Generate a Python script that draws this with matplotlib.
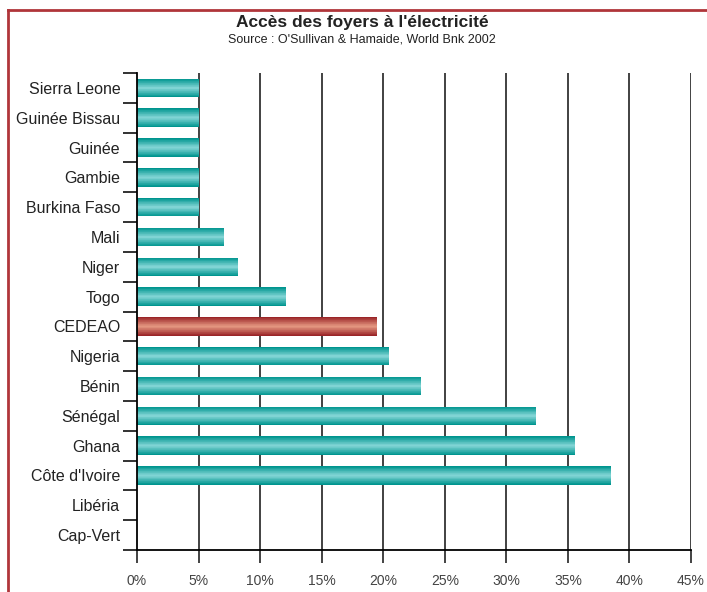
import matplotlib
matplotlib.use("Agg")
import matplotlib.pyplot as plt
import numpy as np
from matplotlib.lines import Line2D
from matplotlib.colors import to_rgb

plt.rcParams['font.family'] = ['Liberation Sans', 'DejaVu Sans']

countries = ["Sierra Leone", "Guinée Bissau", "Guinée", "Gambie", "Burkina Faso",
             "Mali", "Niger", "Togo", "CEDEAO", "Nigeria", "Bénin", "Sénégal",
             "Ghana", "Côte d'Ivoire", "Libéria", "Cap-Vert"]
values = [5.0, 5.0, 5.0, 5.0, 5.0, 7.1, 8.2, 12.1, 19.5, 20.5, 23.1, 32.4,
          35.6, 38.5, 0.0, 0.0]
highlight = "CEDEAO"
xticks = [0, 5, 10, 15, 20, 25, 30, 35, 40, 45]

fig = plt.figure(figsize=(7.07, 5.92), dpi=100)
ax = fig.add_axes([137/707, 1-550/592, (691-137)/707, (550-73)/592])

y = np.arange(len(countries))
teal_edge, teal_mid = to_rgb("#00958f"), to_rgb("#80d4d4")
red_edge, red_mid = to_rgb("#9a2528"), to_rgb("#e3957f")
H = 0.62
n = 14
for k in range(n):
    t = k / (n - 1)
    h = H * (1 - t * 0.92)
    for i, (c, v) in enumerate(zip(countries, values)):
        e, m = (red_edge, red_mid) if c == highlight else (teal_edge, teal_mid)
        col = tuple(e[j] + (m[j] - e[j]) * t for j in range(3))
        ax.barh(i, v, height=h, color=col, zorder=3, linewidth=0)

ax.set_ylim(len(countries) - 0.5, -0.5)
ax.set_xlim(0, 45)
ax.set_yticks(np.arange(-0.5, len(countries) + 0.5, 1))
ax.set_yticklabels([])
ax.set_yticks(y, minor=True)
ax.set_yticklabels(countries, minor=True, fontsize=11.5, color="#222222")
ax.tick_params(axis='y', which='minor', length=0, pad=12)
ax.tick_params(axis='y', which='major', length=10, width=1.3, color="#222222")
ax.set_xticks(xticks)
ax.set_xticklabels([f"{x}%" for x in xticks], fontsize=10, color="#444444")
ax.tick_params(axis='x', length=9.5, width=1.2, pad=7.5, color="#222222")
for x in xticks[1:]:
    ax.axvline(x, color="#333333", lw=1.3, zorder=1)
for s in ["top", "right"]:
    ax.spines[s].set_visible(False)
ax.spines["left"].set_linewidth(1.3)
ax.spines["bottom"].set_linewidth(1.3)
ax.spines["left"].set_zorder(5)

fig.text(362/707, 1-22/592, "Accès des foyers à l'électricité", ha='center', va='center',
         fontsize=12.5, fontweight='bold', color="#222222")
fig.text(362/707, 1-40/592, "Source : O'Sullivan & Hamaide, World Bnk 2002", ha='center',
         va='center', fontsize=9, color="#222222")

red = "#b0353a"
fig.add_artist(Line2D([8/707, 8/707], [0, 1-10/592], transform=fig.transFigure, color=red, lw=2))
fig.add_artist(Line2D([8/707, 1], [1-10/592, 1-10/592], transform=fig.transFigure, color=red, lw=2))

fig.savefig("out.png", dpi=100)
